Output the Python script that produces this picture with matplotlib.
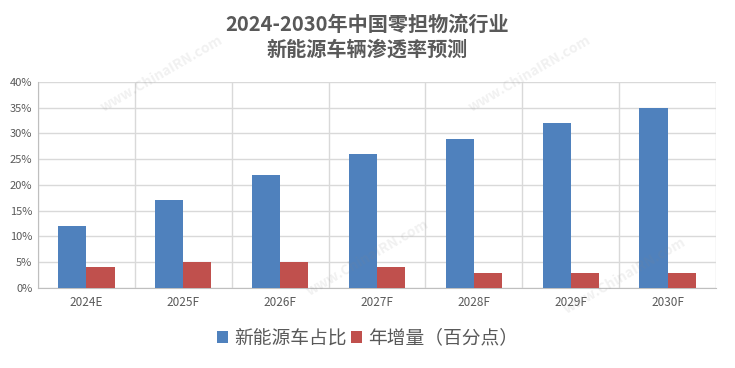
import matplotlib
matplotlib.use("Agg")
import matplotlib.pyplot as plt
import numpy as np

plt.rcParams['font.family'] = ['Noto Sans CJK SC', 'DejaVu Sans']

categories = ["2024E", "2025F", "2026F", "2027F", "2028F", "2029F", "2030F"]
share = [12, 17, 22, 26, 29, 32, 35]       # 新能源车占比 (%)
increase = [4, 5, 5, 4, 3, 3, 3]           # 年增量 (百分点)
yticks = [0, 5, 10, 15, 20, 25, 30, 35, 40]

blue = "#4F81BD"
red = "#C0504D"
txt = "#595959"
grid = "#D9D9D9"

fig = plt.figure(figsize=(7.35, 3.68), dpi=100)
ax = fig.add_axes([0.0517, 0.2174, 0.9224, 0.5598])

x = np.arange(len(categories))
w = 0.29
ax.bar(x - w / 2, share, w, color=blue, label="新能源车占比", zorder=3)
ax.bar(x + w / 2, increase, w, color=red, label="年增量（百分点）", zorder=3)

ax.set_xlim(-0.5, len(categories) - 0.5)
ax.set_ylim(0, 40)
ax.set_yticks(yticks)
ax.set_yticklabels([f"{v}%" for v in yticks], fontsize=8, color=txt)
ax.set_xticks(x)
ax.set_xticklabels(categories, fontsize=8.5, color=txt)
ax.set_xticks(np.arange(len(categories) + 1) - 0.5, minor=True)
ax.tick_params(axis="both", which="both", length=0)
ax.tick_params(axis="x", pad=6)
ax.tick_params(axis="y", pad=4)

ax.grid(axis="y", color=grid, linewidth=1, zorder=0)
ax.grid(axis="x", which="minor", color=grid, linewidth=1, zorder=0)
for s in ["top", "right"]:
    ax.spines[s].set_visible(False)
for s in ["left", "bottom"]:
    ax.spines[s].set_color("#BFBFBF")

fig.text(0.5, 0.9, "2024-2030年中国零担物流行业\n新能源车辆渗透率预测",
         ha="center", va="center", fontsize=14.5, fontweight="bold",
         color=txt, linespacing=1.25)

fig.legend(loc="center", bbox_to_anchor=(0.5, 0.082), ncol=2, frameon=False,
           fontsize=13.5, handlelength=0.6, handleheight=0.6, handletextpad=0.35,
           columnspacing=0.2, labelcolor=txt)

# faint watermarks
for (wx, wy) in [(0.22, 0.8), (0.72, 0.8), (0.5, 0.3), (0.85, 0.25)]:
    fig.text(wx, wy, "www.ChinaIRN.com", rotation=30,
             ha="center", va="center", fontsize=10, fontweight="bold",
             color="#888888", alpha=0.12)

fig.savefig("out.png", dpi=100)
